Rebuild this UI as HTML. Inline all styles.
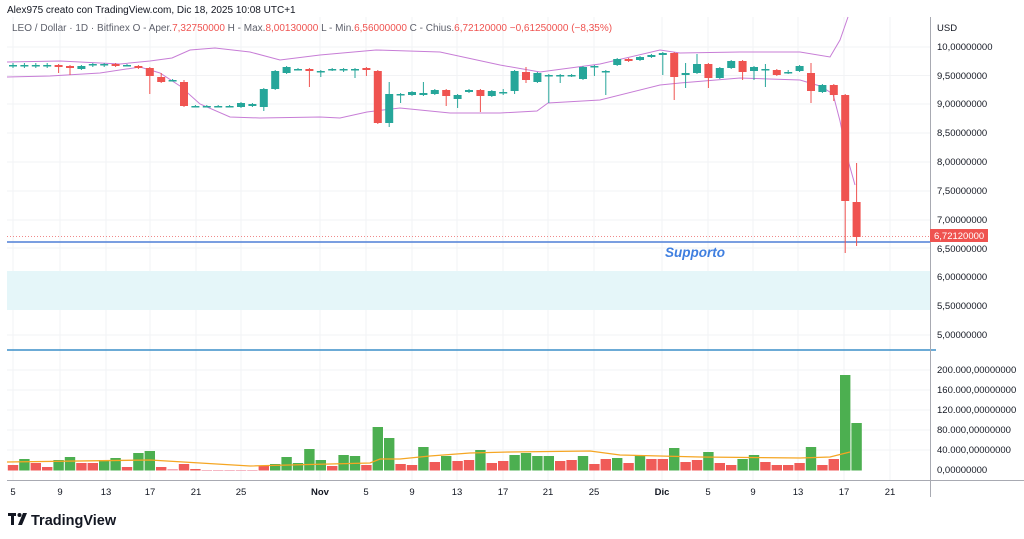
<!DOCTYPE html>
<html><head><meta charset="utf-8">
<style>
html,body{margin:0;padding:0;background:#fff;width:1024px;height:539px;overflow:hidden}
svg{display:block}
text{font-family:"Liberation Sans",sans-serif}
</style></head>
<body>
<svg id="c" width="1024" height="539" viewBox="0 0 1024 539" xmlns="http://www.w3.org/2000/svg">
<g id="grid" stroke="#f2f3f5" stroke-width="1"></g>
<rect x="7" y="271" width="923" height="39" fill="#e5f6f9"/>
<g id="bands" fill="none" stroke="#c77dd6" stroke-width="1"></g>
<line x1="7" y1="236.5" x2="930" y2="236.5" stroke="#f08a8a" stroke-width="1" stroke-dasharray="1,2"/>
<line x1="7" y1="242" x2="930" y2="242" stroke="#4f7fd6" stroke-width="1.6"/>
<line x1="7" y1="350" x2="936" y2="350" stroke="#3b8fc9" stroke-width="1.6"/>
<g id="vol"></g>
<polyline fill="none" stroke="#f5a623" stroke-width="1.3" points="7,462 150,460 250,466 370,463 380,459 400,459 430,456 470,453 510,452 590,451 620,455 700,457 800,458 830,457 850,452"/>
<g id="cand"></g>
<line x1="7" y1="480.5" x2="1024" y2="480.5" stroke="#a8aab2" stroke-width="1"/>
<line x1="930.5" y1="17" x2="930.5" y2="497" stroke="#a8aab2" stroke-width="1"/>
<text x="665" y="257" font-size="13.5" font-weight="bold" font-style="italic" fill="#3f7fe0">Supporto</text>
<g font-size="10" fill="#131722">
<text x="7" y="13">Alex975 creato con TradingView.com, Dic 18, 2025 10:08 UTC+1</text>
</g>
<text x="12" y="31" font-size="10" fill="#5d606b">LEO / Dollar · 1D · Bitfinex  O - Aper.<tspan fill="#ef5350">7,32750000</tspan>  H - Max.<tspan fill="#ef5350">8,00130000</tspan>  L - Min.<tspan fill="#ef5350">6,56000000</tspan>  C - Chius.<tspan fill="#ef5350">6,72120000  −0,61250000 (−8,35%)</tspan></text>
<g font-size="9.5" fill="#131722">
<text x="937" y="31">USD</text>
<text x="937" y="50">10,00000000</text>
<text x="937" y="79">9,50000000</text>
<text x="937" y="107">9,00000000</text>
<text x="937" y="136">8,50000000</text>
<text x="937" y="165">8,00000000</text>
<text x="937" y="194">7,50000000</text>
<text x="937" y="223">7,00000000</text>
<text x="937" y="252">6,50000000</text>
<text x="937" y="280">6,00000000</text>
<text x="937" y="309">5,50000000</text>
<text x="937" y="338">5,00000000</text>
<text x="937" y="373">200.000,00000000</text>
<text x="937" y="393">160.000,00000000</text>
<text x="937" y="413">120.000,00000000</text>
<text x="937" y="433">80.000,00000000</text>
<text x="937" y="453">40.000,00000000</text>
<text x="937" y="473">0,00000000</text>
</g>
<rect x="930" y="229" width="58" height="13" fill="#ef5350"/>
<text x="934" y="239" font-size="9.5" fill="#fff">6,72120000</text>
<g font-size="9.5" fill="#131722" text-anchor="middle">
<text x="13" y="495">5</text><text x="60" y="495">9</text><text x="106" y="495">13</text><text x="150" y="495">17</text><text x="196" y="495">21</text><text x="241" y="495">25</text>
<text x="320" y="495" font-weight="bold">Nov</text><text x="366" y="495">5</text><text x="412" y="495">9</text><text x="457" y="495">13</text><text x="503" y="495">17</text><text x="548" y="495">21</text><text x="594" y="495">25</text>
<text x="662" y="495" font-weight="bold">Dic</text><text x="708" y="495">5</text><text x="753" y="495">9</text><text x="798" y="495">13</text><text x="844" y="495">17</text><text x="890" y="495">21</text>
</g>
<g fill="#131722">
<rect x="8" y="513" width="8" height="3"/><rect x="11" y="513" width="3" height="12"/>
<circle cx="19.5" cy="515" r="2"/><path d="M23,513 L27,513 L22,525 L18,525 Z"/>
<text x="31" y="525" font-size="14.5" font-weight="bold">TradingView</text>
</g>
</svg>
<script>
var NS="http://www.w3.org/2000/svg";
function el(p,t,a){var e=document.createElementNS(NS,t);for(var k in a)e.setAttribute(k,a[k]);document.getElementById(p).appendChild(e);return e;}
var gx=[13,60,106,150,196,241,320,366,412,457,503,548,594,662,708,753,798,844,890];
gx.forEach(function(x){el("grid","line",{x1:x,y1:17,x2:x,y2:480});});
[47,75.5,104,133,162,191,220,248,277,306,335,370,390,410,430,450].forEach(function(y){el("grid","line",{x1:7,y1:y,x2:930,y2:y});});
el("bands","polyline",{points:"7,62 60,61 120,64 150,61 172,58 190,50 215,48 250,52 280,60 320,55 376,50 440,52 500,65 540,72 600,64 660,50 680,53 740,52 800,52 830,57 840,40 848,17"});
el("bands","polyline",{points:"7,77 50,76 100,73 140,67 160,73 180,86 200,104 230,117 260,118 320,117 340,118 367,112 400,108 450,113 500,113 537,111 548,103 600,100 660,85 680,83 740,78 800,80 820,86 833,94 840,121 848,160 855,185"});
var C=[[65,65,63,68],[65,65,63,68],[65,65,63,68],[65,65,63,68],[65,67,64,73],[66,68,65,75],[69,66,65,70],[64,64,63,67],[64,64,63,67],[64,66,63,67],[65,65,64,66],[66,68,65,69],[68,76,67,94],[77,82,73,83],[80,80,79,81],[82,106,80,107],
[106,106,105,107],[106,106,105,107],[106,106,105,107],[106,106,105,107],[107,103,102,108],[106,104,103,107],[107,89,88,111],[89,71,70,90],[73,67,66,74],[69,69,68,70],[69,71,68,87],[71,71,70,77],[70,69,68,71],
[69,69,68,72],[69,69,68,78],[68,70,67,76],[71,123,70,124],[123,94,82,127],[94,94,93,103],[95,92,91,96],[95,93,82,96],[94,90,89,95],[90,96,89,106],[99,95,94,108],[92,90,89,93],[90,96,89,112],[96,91,90,97],[92,92,89,95],
[91,71,70,94],[72,80,67,83],[82,73,72,83],[75,75,74,103],[75,75,74,83],[76,75,74,77],[79,67,66,80],[67,66,65,76],[71,71,70,95],[65,59,58,66],[59,61,58,62],[60,57,56,61],[57,55,54,58],[55,53,52,75],[53,77,52,100],
[75,73,63,88],[73,64,54,74],[64,78,63,88],[78,68,67,79],[68,61,60,69],[61,72,60,80],[71,67,66,80],[69,69,64,87],[70,75,69,76],[72,72,70,74],[71,66,65,72],[73,91,63,103],[92,85,84,93],[85,95,84,101],[95,201,94,253],[202,237,163,246]];
C.forEach(function(c,i){var x=13+11.4*i;var col=c[1]<c[0]?"#26a69a":(c[1]>c[0]?"#ef5350":"#26a69a");
el("cand","line",{x1:x,y1:c[2],x2:x,y2:c[3],stroke:col,"stroke-width":1});
var t=Math.min(c[0],c[1]),h=Math.max(1.5,Math.abs(c[1]-c[0]));
el("cand","rect",{x:x-4,y:t,width:8,height:h,fill:col});});
var V=[[465,"r"],[459,"g"],[463,"r"],[467,"r"],[460,"g"],[457,"g"],[463,"r"],[463,"r"],[460,"g"],[458,"g"],[467,"r"],[453,"g"],[451,"g"],[467,"r"],[469,"p"],[464,"r"],[469,"r"],[470,"p"],[470,"p"],[470,"p"],[470,"p"],[470,"p"],[466,"r"],[464,"g"],[457,"g"],[463,"g"],[449,"g"],[460,"g"],[466,"r"],[455,"g"],[456,"g"],[465,"r"],[427,"g"],[438,"g"],[464,"r"],[465,"r"],[447,"g"],[462,"r"],[456,"g"],[461,"r"],[460,"r"],[450,"g"],[463,"r"],[461,"r"],[455,"g"],[453,"g"],[456,"g"],[456,"g"],[461,"r"],[460,"r"],[456,"g"],[464,"r"],[459,"r"],[458,"g"],[463,"r"],[455,"g"],[459,"r"],[459,"r"],[448,"g"],[462,"r"],[460,"r"],[452,"g"],[463,"r"],[465,"r"],[459,"g"],[455,"g"],[462,"r"],[465,"r"],[465,"r"],[463,"r"],[447,"g"],[465,"r"],[459,"r"],[375,"g"],[423,"g"]];
V.forEach(function(v,i){var x=13+11.4*i;var col=v[1]=="g"?"#4caf50":(v[1]=="r"?"#f05b58":"#f4a7b5");
el("vol","rect",{x:x-5.2,y:v[0],width:10.4,height:Math.max(0.8,470.5-v[0]),fill:col});});
</script>
</body></html>
